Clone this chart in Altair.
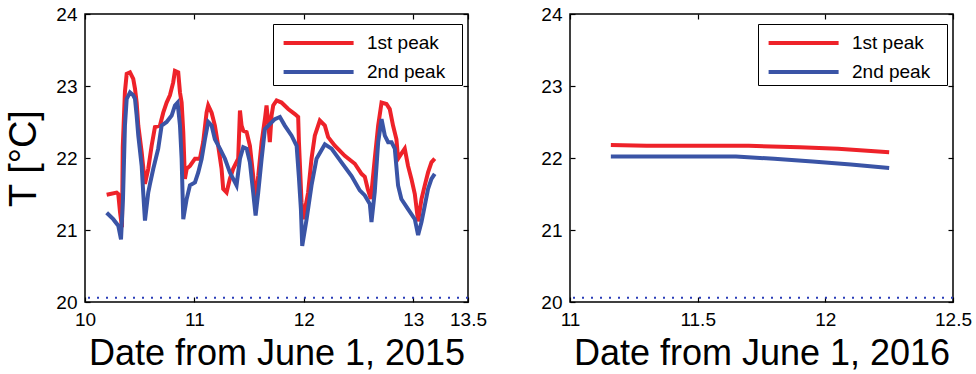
import altair as alt
import pandas as pd

# ---- June 2015 record: days from June 1, temperature of each peak ----
day15_1st = [10.198, 10.289, 10.304, 10.320, 10.338, 10.345, 10.365, 10.381, 10.411, 10.441,
             10.457, 10.472, 10.487, 10.518, 10.548, 10.578, 10.609, 10.639, 10.685, 10.715,
             10.746, 10.776, 10.806, 10.822, 10.852, 10.868, 10.883, 10.898, 10.913, 10.929,
             10.959, 11.005, 11.050, 11.080, 11.111, 11.126, 11.157, 11.187, 11.217, 11.248,
             11.263, 11.294, 11.324, 11.354, 11.400, 11.416, 11.431, 11.446, 11.477, 11.507,
             11.537, 11.553, 11.583, 11.614, 11.644, 11.659, 11.671, 11.689, 11.705, 11.720,
             11.751, 11.796, 11.857, 11.918, 11.948, 11.955, 11.979, 11.994, 12.039, 12.070,
             12.100, 12.146, 12.192, 12.222, 12.283, 12.374, 12.466, 12.527, 12.557, 12.584,
             12.612, 12.648, 12.679, 12.710, 12.755, 12.785, 12.815, 12.846, 12.861, 12.891,
             12.922, 12.952, 12.983, 13.014, 13.044, 13.075, 13.105, 13.135, 13.166, 13.196]
temp15_1st = [21.49, 21.52, 21.50, 21.25, 21.04, 22.15, 22.92, 23.17, 23.19, 23.10,
              22.96, 22.77, 22.45, 22.08, 21.64, 21.85, 22.17, 22.43, 22.45, 22.63,
              22.77, 22.87, 23.05, 23.21, 23.19, 22.91, 22.77, 22.36, 21.71, 21.85,
              21.89, 21.99, 21.99, 22.22, 22.63, 22.73, 22.63, 22.45, 22.17, 21.85,
              21.57, 21.52, 21.71, 21.85, 21.99, 22.66, 22.45, 22.38, 22.36, 22.17,
              21.75, 21.38, 21.75, 22.22, 22.54, 22.73, 22.54, 22.22, 22.59, 22.73,
              22.80, 22.77, 22.68, 22.61, 22.57, 22.22, 21.38, 21.15, 21.52, 21.99,
              22.31, 22.52, 22.45, 22.29, 22.17, 22.03, 21.92, 21.78, 21.74, 21.57,
              21.43, 21.99, 22.45, 22.77, 22.75, 22.68, 22.45, 22.26, 21.99, 22.06,
              22.13, 21.89, 21.71, 21.50, 21.12, 21.43, 21.62, 21.80, 21.94, 21.99]

day15_2nd = [10.198, 10.258, 10.304, 10.329, 10.347, 10.365, 10.381, 10.411, 10.441, 10.457,
             10.472, 10.487, 10.518, 10.532, 10.548, 10.578, 10.594, 10.624, 10.669, 10.700,
             10.746, 10.792, 10.822, 10.846, 10.868, 10.883, 10.898, 10.929, 10.959, 11.005,
             11.035, 11.066, 11.096, 11.126, 11.157, 11.187, 11.233, 11.279, 11.324, 11.385,
             11.416, 11.446, 11.477, 11.507, 11.537, 11.559, 11.583, 11.614, 11.644, 11.689,
             11.735, 11.781, 11.826, 11.888, 11.934, 11.954, 11.973, 11.985, 12.025, 12.070,
             12.116, 12.192, 12.253, 12.344, 12.436, 12.511, 12.557, 12.603, 12.618, 12.648,
             12.679, 12.710, 12.740, 12.770, 12.801, 12.831, 12.861, 12.891, 12.952, 13.014,
             13.044, 13.075, 13.105, 13.135, 13.166, 13.196]
temp15_2nd = [21.24, 21.15, 21.06, 20.87, 21.43, 22.45, 22.82, 22.91, 22.87, 22.82,
              22.59, 22.31, 21.89, 21.52, 21.13, 21.52, 21.64, 21.85, 22.13, 22.45,
              22.50, 22.59, 22.73, 22.77, 22.45, 21.99, 21.15, 21.43, 21.62, 21.66,
              21.80, 21.99, 22.26, 22.50, 22.45, 22.26, 22.13, 21.99, 21.80, 21.62,
              21.99, 22.15, 22.13, 21.94, 21.52, 21.20, 21.52, 21.99, 22.40, 22.47,
              22.54, 22.57, 22.45, 22.31, 22.17, 21.75, 21.29, 20.78, 21.15, 21.62,
              21.99, 22.19, 22.13, 21.94, 21.75, 21.55, 21.48, 21.36, 21.11, 21.53,
              22.22, 22.54, 22.31, 22.22, 22.22, 22.13, 21.62, 21.43, 21.29, 21.15,
              20.93, 21.11, 21.34, 21.57, 21.71, 21.78]

# ---- June 2016 record ----
day16_1st = [11.16, 11.30, 11.70, 11.90, 12.05, 12.25]
temp16_1st = [22.18, 22.17, 22.17, 22.15, 22.13, 22.08]
day16_2nd = [11.16, 11.65, 11.80, 11.95, 12.10, 12.25]
temp16_2nd = [22.02, 22.02, 21.99, 21.95, 21.91, 21.86]

series_names = ["1st peak", "2nd peak"]
baseline_temp = [20.06]

y_ticks = [20, 21, 22, 23, 24]
x_ticks_2015 = [10, 11, 12, 13, 13.5]
x_ticks_2016 = [11, 11.5, 12, 12.5]

RED = "#ee2229"
BLUE = "#3a54a6"
FONT = "Liberation Sans"
W, H = 383, 288
TICK = 5
LINE_W = 4
# long, flat legend stroke; the trailing move widens the legend box
LEGEND_STROKE = "M-0.6,0H4.4M11.3,0"


def table(d1, t1, d2, t2):
    rows = []
    for name, ds, ts in ((series_names[0], d1, t1), (series_names[1], d2, t2)):
        for i, (d, t) in enumerate(zip(ds, ts)):
            rows.append({"day": d, "temp": t, "series": name, "idx": i})
    return pd.DataFrame(rows)


def panel(df, xdom, xticks, xtitle, ytitle):
    xs = alt.Scale(domain=xdom, nice=False, zero=False)
    ys = alt.Scale(domain=[20, 24], nice=False, zero=False)

    x_axis = alt.Axis(values=xticks, format="~g", title=xtitle, offset=-TICK, tickSize=TICK,
                      domain=False, grid=False, labelPadding=8, tickColor="black",
                      tickWidth=1.2, labelFont=FONT, labelFontSize=19, labelColor="black",
                      titleFont=FONT, titleFontSize=36, titleFontWeight="normal",
                      titleColor="black", titlePadding=7, labelFlush=False)
    y_kwargs = dict(values=y_ticks, format="d", offset=-TICK, tickSize=TICK, domain=False,
                    grid=False, labelPadding=8, tickColor="black", tickWidth=1.2,
                    labelFont=FONT, labelFontSize=19, labelColor="black")
    if ytitle:
        y_axis = alt.Axis(title=ytitle, titleFont=FONT, titleFontSize=38,
                          titleFontWeight="normal", titleColor="black", titlePadding=12,
                          **y_kwargs)
    else:
        y_axis = alt.Axis(title=None, **y_kwargs)

    lines = alt.Chart(df).mark_line(strokeWidth=LINE_W).encode(
        x=alt.X("day:Q", scale=xs, axis=x_axis),
        y=alt.Y("temp:Q", scale=ys, axis=y_axis),
        order="idx:Q",
        color=alt.Color(
            "series:N",
            scale=alt.Scale(domain=series_names, range=[RED, BLUE]),
            legend=alt.Legend(
                orient="none", legendX=188, legendY=10, title=None,
                symbolType=LEGEND_STROKE, symbolSize=784, symbolStrokeWidth=LINE_W,
                labelFont=FONT, labelFontSize=19, labelColor="black", labelOffset=59,
                padding=3, rowPadding=3, strokeColor="black", fillColor="white",
            ),
        ),
    )

    # mirrored inward ticks on the top and right edges of the box
    mirror = alt.Chart(df).mark_point(opacity=0).encode(
        x=alt.X("day:Q", scale=xs,
                axis=alt.Axis(orient="top", values=xticks, labels=False, title=None,
                              offset=-TICK, tickSize=TICK, domain=False, grid=False,
                              tickColor="black", tickWidth=1.2)),
        y=alt.Y("temp:Q", scale=ys,
                axis=alt.Axis(orient="right", values=y_ticks, labels=False, title=None,
                              offset=-TICK, tickSize=TICK, domain=False, grid=False,
                              tickColor="black", tickWidth=1.2)),
    )

    base = alt.Chart(pd.DataFrame({"t": baseline_temp})).mark_rule(
        color="#2a3cb8", strokeWidth=2, strokeDash=[2, 7]
    ).encode(y=alt.Y("t:Q", scale=ys, axis=None))

    return (
        alt.layer(lines, mirror, base)
        .resolve_axis(x="independent", y="independent")
        .properties(width=W, height=H)
    )


left = panel(table(day15_1st, temp15_1st, day15_2nd, temp15_2nd),
             [10, 13.5], x_ticks_2015, "Date from June 1, 2015", "T [°C]")
right = panel(table(day16_1st, temp16_1st, day16_2nd, temp16_2nd),
              [11, 12.5], x_ticks_2016, "Date from June 1, 2016", None)

chart = (
    alt.hconcat(left, right, spacing=52, background="white",
                padding={"left": 5, "top": 4, "right": 0, "bottom": 0})
    .resolve_legend(color="independent")
    .configure_view(stroke="black", strokeWidth=1.5)
)

chart.save("out.html", embed_options={"renderer": "svg", "actions": False})
